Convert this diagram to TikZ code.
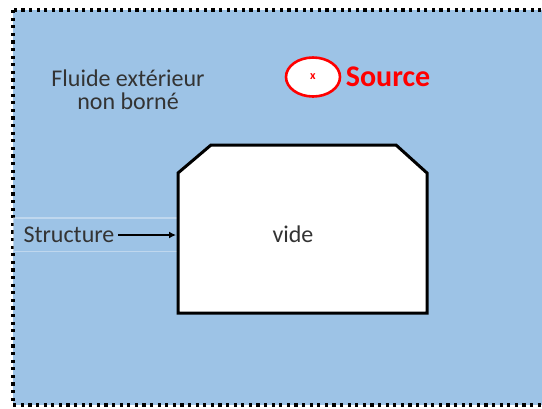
\documentclass[tikz,border=0pt]{standalone}
\usepackage{fontspec}
\setmainfont{Carlito}
\usepackage{xcolor}
\usetikzlibrary{arrows.meta, positioning, shapes.geometric}
\definecolor{fluide}{HTML}{9DC3E6}
\definecolor{rouge}{HTML}{FF0000}
\tikzset{
  domaine/.style={fill=fluide, draw=black, line width=3.2pt, dash pattern=on 3.2pt off 4.4pt},
  paroi/.style={draw=black, line width=3pt, fill=white, line join=miter},
  label/.style={align=center, text=black!80, font=\fontsize{24}{23}\selectfont},
  srcell/.style={ellipse, draw=rouge, line width=2.6pt, fill=white, minimum width=54pt, minimum height=39pt, inner sep=0pt},
  arrow/.style={-{Latex[length=7pt,width=7pt]}, line width=2.4pt},
  every node/.style={font=\fontsize{24}{23}\selectfont}
}
\begin{document}
\begin{tikzpicture}[x=1pt,y=-1pt]
    \useasboundingbox (0,0) rectangle (542,408);
    \clip (0,0) rectangle (542,408);
    % fluid domain, open on the right
    \draw[domaine] (13,10) rectangle (570,405);
    % structure label band
    \fill[white, opacity=0.35] (13,217) rectangle (180,252);
    \fill[fluide] (14,218.5) rectangle (180,250.5);
    % void inside the structure
    \draw[paroi] (178,313) -- (178,173) -- (211,145) -- (396,145) -- (427,173) -- (427,313) -- cycle;
    \node[label] (vide) at (293,234) {vide};
    \coordinate (bord) at (176,235);
    \node[label] (fluid) at (128,90) {Fluide extérieur\\non borné};
    % source point
    \node[srcell] (src) at (313,77) {};
    \node[text=rouge, font=\bfseries\fontsize{12}{12}\selectfont] at (src) {x};
    \node[right=1pt of src, text=rouge, font=\bfseries\fontsize{30}{23}\selectfont] (srclab) {Source};
    % structure pointer
    \node[label, anchor=west] (struct) at (20,235) {Structure};
    \draw[arrow] (struct.east) -- (bord);
\end{tikzpicture}
\end{document}
